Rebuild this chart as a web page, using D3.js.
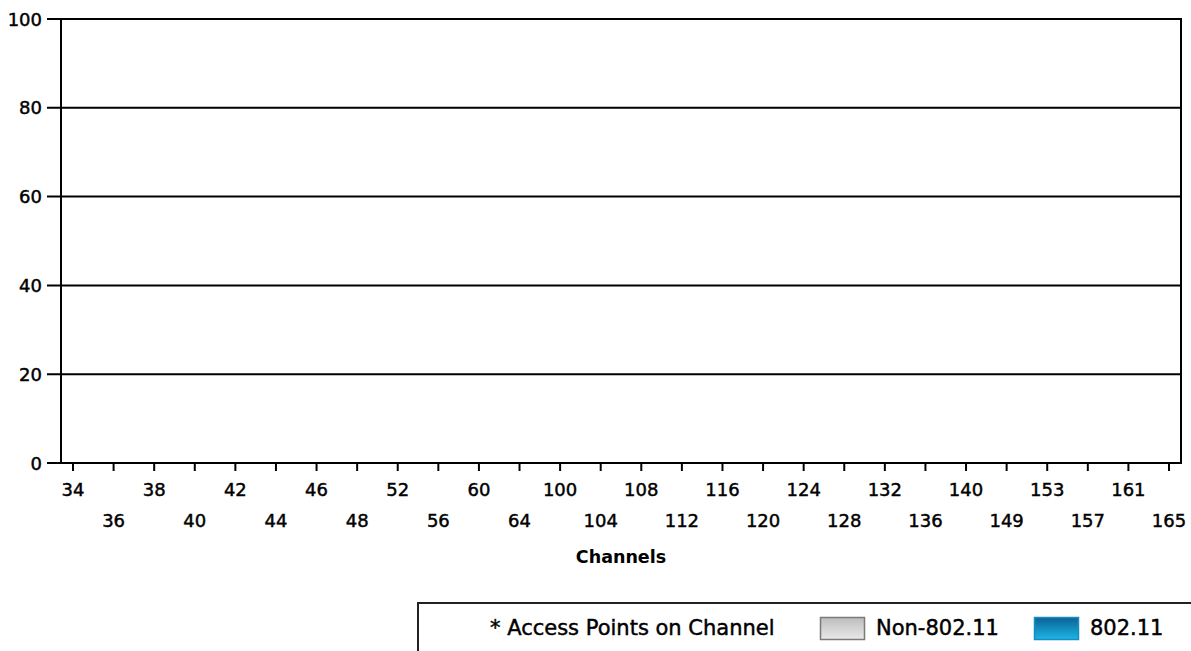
<!DOCTYPE html>
<html>
<head>
<meta charset="utf-8">
<script src="https://cdn.jsdelivr.net/npm/d3@7"></script>
<style>
  html, body { margin: 0; padding: 0; background: #fff; }
  svg { display: block; }
  text { font-family: "DejaVu Sans", Verdana, sans-serif; fill: #000; }
  text.heavy { stroke: #000; stroke-width: 0.45px; }
</style>
</head>
<body>
<svg id="chart" width="1191" height="651"></svg>
<script>
// ---- data ----
const channels = ["34","36","38","40","42","44","46","48","52","56","60","64",
  "100","104","108","112","116","120","124","128","132","136","140",
  "149","153","157","161","165"];
const non80211 = [0,0,0,0,0,0,0,0,0,0,0,0,0,0,0,0,0,0,0,0,0,0,0,0,0,0,0,0];
const wifi80211 = [0,0,0,0,0,0,0,0,0,0,0,0,0,0,0,0,0,0,0,0,0,0,0,0,0,0,0,0];
const yTicks = [0, 20, 40, 60, 80, 100];
const legendItems = ["Non-802.11", "802.11"];

// ---- layout ----
const W = 1191, H = 651;
const plot = { left: 61, right: 1181, top: 19, bottom: 463 };

const svg = d3.select("#chart");
const defs = svg.append("defs");

const gGrey = defs.append("linearGradient").attr("id","gGrey")
  .attr("x1",0).attr("y1",0).attr("x2",0).attr("y2",1);
gGrey.append("stop").attr("offset","0%").attr("stop-color","#bdbdbd");
gGrey.append("stop").attr("offset","100%").attr("stop-color","#e9e9e9");

const gBlue = defs.append("linearGradient").attr("id","gBlue")
  .attr("x1",0).attr("y1",0).attr("x2",0).attr("y2",1);
gBlue.append("stop").attr("offset","0%").attr("stop-color","#0b6294");
gBlue.append("stop").attr("offset","100%").attr("stop-color","#1cb6e8");

const y = d3.scaleLinear().domain([0, 100]).range([plot.bottom, plot.top]);
const x = d3.scalePoint().domain(channels).range([73, 1169]);
const bw = 30;

// bars (stacked: non-802.11 + 802.11)
const barG = svg.append("g");
channels.forEach((c, i) => {
  const a = non80211[i], b = wifi80211[i];
  if (a > 0) barG.append("rect").attr("x", x(c) - bw/2).attr("width", bw)
    .attr("y", y(a)).attr("height", y(0) - y(a)).attr("fill", "url(#gGrey)").attr("stroke","#888");
  if (b > 0) barG.append("rect").attr("x", x(c) - bw/2).attr("width", bw)
    .attr("y", y(a + b)).attr("height", y(a) - y(a + b)).attr("fill", "url(#gBlue)").attr("stroke","#1a8cc0");
});

// gridlines + y ticks
const grid = svg.append("g");
grid.selectAll("line").data(yTicks).enter().append("line")
  .attr("x1", 47).attr("x2", plot.right)
  .attr("y1", d => y(d)).attr("y2", d => y(d))
  .attr("stroke", "#000").attr("stroke-width", 2);
grid.selectAll("text").data(yTicks).enter().append("text")
  .attr("class", "heavy")
  .attr("x", 42).attr("y", d => y(d))
  .attr("text-anchor", "end").attr("dominant-baseline", "central")
  .attr("font-size", 18).text(d => d);

// frame verticals
svg.append("line").attr("x1", plot.left).attr("x2", plot.left)
  .attr("y1", plot.top).attr("y2", plot.bottom).attr("stroke", "#000").attr("stroke-width", 2);
svg.append("line").attr("x1", plot.right).attr("x2", plot.right)
  .attr("y1", plot.top - 1).attr("y2", plot.bottom + 1).attr("stroke", "#000").attr("stroke-width", 2);

// x ticks + staggered labels
const xg = svg.append("g");
xg.selectAll("line").data(channels).enter().append("line")
  .attr("x1", d => x(d)).attr("x2", d => x(d))
  .attr("y1", plot.bottom).attr("y2", plot.bottom + 8)
  .attr("stroke", "#000").attr("stroke-width", 2);
xg.selectAll("text").data(channels).enter().append("text")
  .attr("class", "heavy")
  .attr("x", d => x(d))
  .attr("y", (d, i) => i % 2 === 0 ? 489.5 : 520)
  .attr("text-anchor", "middle").attr("dominant-baseline", "central")
  .attr("font-size", 18).text(d => d);

// axis title
svg.append("text").attr("x", (plot.left + plot.right) / 2).attr("y", 557)
  .attr("text-anchor", "middle").attr("dominant-baseline", "central")
  .attr("font-family", "Liberation Sans, Arial, sans-serif")
  .attr("font-weight", "bold").attr("font-size", 17.5).text("Channels");

// legend box
const lg = svg.append("g");
lg.append("path").attr("d", `M418,${H} L418,603 L${W},603`)
  .attr("fill", "none").attr("stroke", "#222").attr("stroke-width", 2);
lg.append("text").attr("class", "heavy").attr("x", 490).attr("y", 628)
  .attr("dominant-baseline", "central").attr("font-size", 21)
  .text("* Access Points on Channel");
const swX = [820, 1034];
const swFill = ["url(#gGrey)", "url(#gBlue)"];
const swStroke = ["#7a7a7a", "#1a8cc0"];
legendItems.forEach((t, i) => {
  lg.append("rect").attr("x", swX[i] + 0.5).attr("y", 617.5).attr("width", 44).attr("height", 22)
    .attr("fill", swFill[i]).attr("stroke", swStroke[i]).attr("stroke-width", 1.5);
  lg.append("text").attr("class", "heavy").attr("x", swX[i] + 56).attr("y", 628)
    .attr("dominant-baseline", "central").attr("font-size", 21).text(t);
});
</script>
</body>
</html>
